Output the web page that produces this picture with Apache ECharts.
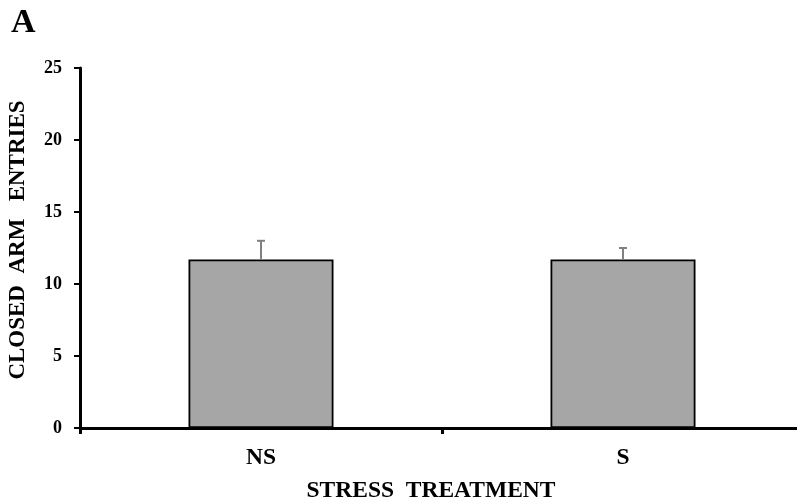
<!DOCTYPE html>
<html>
<head>
<meta charset="utf-8">
<script src="https://cdn.jsdelivr.net/npm/echarts@6/dist/echarts.min.js"></script>
<style>
  html, body { margin: 0; padding: 0; background: #fff; }
  #chart { width: 797px; height: 502px; }
</style>
</head>
<body>
<div id="chart"></div>
<script>
// Closed arm entries by stress treatment (mean + SEM)
const categories = ['NS', 'S'];
const means = [11.7, 11.7];
const errors = [1.3, 0.8];
const yTicks = [0, 5, 10, 15, 20, 25];

const FONT = '"Liberation Serif", "Times New Roman", serif';

const chart = echarts.init(document.getElementById('chart'), null, { renderer: 'canvas' });

const option = {
  animation: false,
  backgroundColor: '#ffffff',
  title: {
    text: 'A',
    left: 6,
    top: 1,
    textStyle: { fontFamily: FONT, fontWeight: 'bold', fontSize: 34, color: '#000' }
  },
  // plot area runs past the right edge of the canvas, as in the original figure
  grid: {
    left: 80, width: 724, top: 68, height: 360,
    containLabel: false,
    outerBoundsMode: 'none'
  },
  xAxis: {
    type: 'category',
    data: categories,
    name: 'STRESS  TREATMENT',
    nameLocation: 'middle',
    nameGap: 51,
    nameTextStyle: {
      fontFamily: FONT, fontWeight: 'bold', fontSize: 23.5, color: '#000',
      padding: [0, 22, 0, 0]
    },
    axisLine: { lineStyle: { color: '#000', width: 3 } },
    axisTick: { show: true, length: 6, alignWithLabel: false, lineStyle: { color: '#000', width: 3 } },
    axisLabel: { fontFamily: FONT, fontWeight: 'bold', fontSize: 23.5, color: '#000', margin: 18 }
  },
  yAxis: {
    type: 'value',
    min: yTicks[0],
    max: yTicks[yTicks.length - 1],
    interval: 5,
    name: 'CLOSED  ARM   ENTRIES',
    nameLocation: 'middle',
    nameGap: 50,
    nameRotate: 90,
    nameTextStyle: {
      fontFamily: FONT, fontWeight: 'bold', fontSize: 23, color: '#000',
      padding: [0, 0, 0, 16]
    },
    axisLine: { show: true, lineStyle: { color: '#000', width: 3 } },
    axisTick: { show: true, length: 6, lineStyle: { color: '#000', width: 2 } },
    splitLine: { show: false },
    axisLabel: { fontFamily: FONT, fontWeight: 'bold', fontSize: 18, color: '#000', margin: 18 }
  },
  series: [
    {
      type: 'bar',
      data: means,
      barWidth: 145,
      itemStyle: { color: '#a6a6a6', borderColor: '#000', borderWidth: 1.8 },
      z: 2
    },
    {
      type: 'custom',
      data: categories.map((c, i) => [i, means[i], means[i] + errors[i]]),
      renderItem: function (params, api) {
        const base = api.coord([api.value(0), api.value(1)]);
        const top = api.coord([api.value(0), api.value(2)]);
        const half = 4;
        const style = { stroke: '#808080', lineWidth: 2 };
        return {
          type: 'group',
          children: [
            { type: 'line', shape: { x1: base[0], y1: base[1], x2: top[0], y2: top[1] }, style: style },
            { type: 'line', shape: { x1: top[0] - half, y1: top[1], x2: top[0] + half, y2: top[1] }, style: style }
          ]
        };
      },
      z: 3
    }
  ]
};

chart.setOption(option);
</script>
</body>
</html>
